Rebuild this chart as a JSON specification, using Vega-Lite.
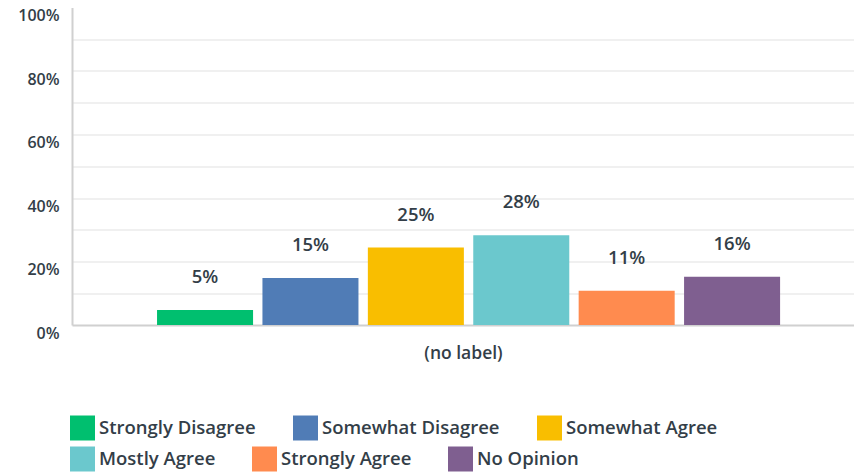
{
  "$schema": "https://vega.github.io/schema/vega-lite/v6.json",
  "autosize": "none",
  "padding": {"left": 72, "top": 7.5, "right": 0, "bottom": 148},
  "width": 782,
  "height": 317.5,
  "background": "white",
  "config": {
    "view": {"stroke": null},
    "font": "Open Sans"
  },
  "data": {
    "values": [
      {"group": "(no label)", "answer": "Strongly Disagree", "value": 4.7, "label": "5%"},
      {"group": "(no label)", "answer": "Somewhat Disagree", "value": 14.8, "label": "15%"},
      {"group": "(no label)", "answer": "Somewhat Agree", "value": 24.4, "label": "25%"},
      {"group": "(no label)", "answer": "Mostly Agree", "value": 28.3, "label": "28%"},
      {"group": "(no label)", "answer": "Strongly Agree", "value": 10.8, "label": "11%"},
      {"group": "(no label)", "answer": "No Opinion", "value": 15.2, "label": "16%"}
    ]
  },
  "encoding": {
    "x": {
      "field": "answer",
      "type": "nominal",
      "sort": null,
      "scale": {"paddingInner": 0.089, "paddingOuter": 0.754, "align": 0.535},
      "axis": {
        "title": "(no label)",
        "labels": false,
        "ticks": false,
        "domainColor": "#d0d0d0",
        "domainWidth": 2,
        "titleFont": "Open Sans",
        "titleFontSize": 17.5,
        "titleFontWeight": 600,
        "titleColor": "#333e48",
        "titlePadding": 19
      }
    },
    "y": {
      "field": "value",
      "type": "quantitative",
      "scale": {"domain": [0, 100], "nice": false},
      "axis": {
        "title": null,
        "values": [0, 10, 20, 30, 40, 50, 60, 70, 80, 90, 100],
        "labelExpr": "datum.value % 20 == 0 ? datum.value + '%' : ''",
        "ticks": false,
        "labelPadding": 13,
        "labelFont": "Open Sans",
        "labelFontSize": 16,
        "labelFontWeight": 600,
        "labelColor": "#333e48",
        "labelOffset": 8,
        "labelFlush": false,
        "domainColor": "#d0d0d0",
        "domainWidth": 2,
        "gridColor": {"condition": {"test": "datum.value == 100 || datum.value == 0", "value": "transparent"}, "value": "#ebebeb"},
        "gridWidth": 1.5
      }
    }
  },
  "layer": [
    {
      "mark": {"type": "bar"},
      "encoding": {
        "color": {
          "field": "answer",
          "type": "nominal",
          "sort": null,
          "scale": {
            "domain": ["Strongly Disagree", "Somewhat Disagree", "Somewhat Agree", "Mostly Agree", "Strongly Agree", "No Opinion"],
            "range": ["#00bf6f", "#507cb6", "#f9be00", "#6bc8cd", "#ff8b4f", "#7f5f90"]
          },
          "legend": {
            "title": null,
            "orient": "none",
            "legendX": -2,
            "legendY": 408,
            "direction": "horizontal",
            "values": ["Strongly Disagree", "Somewhat Disagree", "Somewhat Agree"],
            "columnPadding": 37,
            "symbolType": "square",
            "symbolSize": 625,
            "symbolStrokeWidth": 0,
            "symbolOpacity": 1,
            "labelOffset": 4,
            "labelFont": "Open Sans",
            "labelFontSize": 18.5,
            "labelFontWeight": 600,
            "labelColor": "#333e48",
            "labelLimit": 400
          }
        }
      }
    },
    {
      "transform": [{"filter": {"field": "answer", "oneOf": ["Mostly Agree", "Strongly Agree", "No Opinion"]}}],
      "mark": {"type": "bar"},
      "encoding": {
        "y": {"datum": 0},
        "fill": {
          "field": "answer",
          "type": "nominal",
          "sort": null,
          "scale": {
            "domain": ["Mostly Agree", "Strongly Agree", "No Opinion"],
            "range": ["#6bc8cd", "#ff8b4f", "#7f5f90"]
          },
          "legend": {
            "title": null,
            "orient": "none",
            "legendX": -2,
            "legendY": 439,
            "direction": "horizontal",
            "columnPadding": 36,
            "symbolType": "square",
            "symbolSize": 625,
            "symbolStrokeWidth": 0,
            "symbolOpacity": 1,
            "labelOffset": 4,
            "labelFont": "Open Sans",
            "labelFontSize": 18.5,
            "labelFontWeight": 600,
            "labelColor": "#333e48",
            "labelLimit": 400
          }
        }
      }
    },
    {
      "mark": {"type": "text", "dy": -33, "baseline": "middle", "font": "Open Sans", "fontSize": 18.5, "fontWeight": 600, "color": "#333e48"},
      "encoding": {
        "text": {"field": "label"}
      }
    }
  ]
}
